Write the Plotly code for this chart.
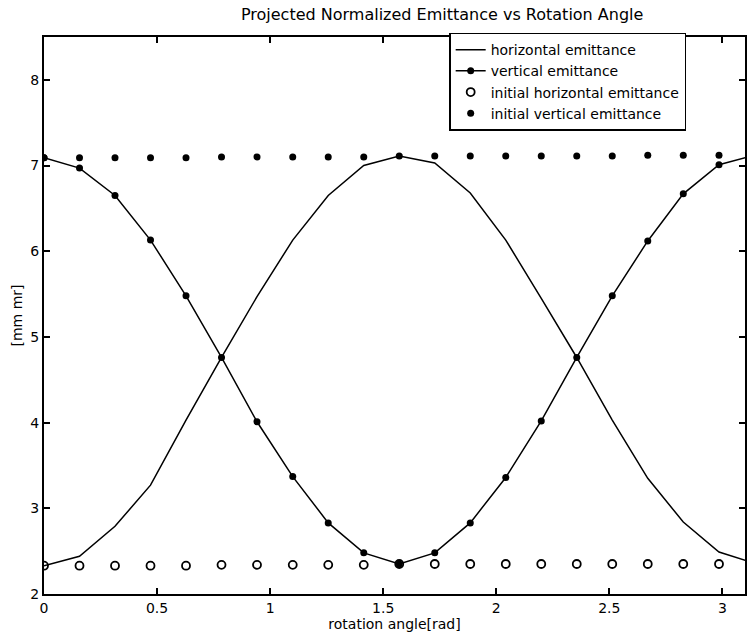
import plotly.graph_objects as go

# rotation angle samples (pi/20 steps)
angles = [0.000, 0.157, 0.314, 0.471, 0.628, 0.785, 0.942, 1.100, 1.257, 1.414, 1.571,
          1.728, 1.885, 2.042, 2.199, 2.356, 2.513, 2.670, 2.827, 2.985, 3.142]

horizontal = [2.33, 2.44, 2.79, 3.27, 4.03, 4.76, 5.47, 6.13, 6.65, 7.00, 7.11,
              7.03, 6.68, 6.13, 5.45, 4.76, 4.03, 3.35, 2.84, 2.49, 2.36]

vertical = [7.09, 6.97, 6.65, 6.13, 5.48, 4.76, 4.01, 3.37, 2.83, 2.48, 2.35,
            2.48, 2.83, 3.36, 4.02, 4.76, 5.48, 6.12, 6.67, 7.01, 7.12]

init_horizontal = [2.33, 2.33, 2.33, 2.33, 2.33, 2.34, 2.34, 2.34, 2.34, 2.34, 2.35,
                   2.35, 2.35, 2.35, 2.35, 2.35, 2.35, 2.35, 2.35, 2.35, 2.36]

init_vertical = [7.09, 7.09, 7.09, 7.09, 7.09, 7.10, 7.10, 7.10, 7.10, 7.10, 7.11,
                 7.11, 7.11, 7.11, 7.11, 7.11, 7.11, 7.12, 7.12, 7.12, 7.12]

x_ticks = [0, 0.5, 1, 1.5, 2, 2.5, 3]
x_tick_labels = ["0", "0.5", "1", "1.5", "2", "2.5", "3"]
y_ticks = [2, 3, 4, 5, 6, 7, 8]
y_tick_labels = ["2", "3", "4", "5", "6", "7", "8"]

FONT = "DejaVu Sans, Liberation Sans, Arial, sans-serif"

fig = go.Figure()
fig.add_trace(go.Scatter(x=angles, y=horizontal, mode="lines", name="horizontal emittance",
                         line=dict(color="black", width=1.5)))
fig.add_trace(go.Scatter(x=angles, y=vertical, mode="lines+markers", name="vertical emittance",
                         line=dict(color="black", width=1.5),
                         marker=dict(symbol="circle", size=7, color="black")))
fig.add_trace(go.Scatter(x=angles, y=init_horizontal, mode="markers", name="initial horizontal emittance",
                         marker=dict(symbol="circle-open", size=8, color="black", line=dict(width=1.8))))
fig.add_trace(go.Scatter(x=angles, y=init_vertical, mode="markers", name="initial vertical emittance",
                         marker=dict(symbol="circle", size=7, color="black")))

fig.update_layout(
    width=747, height=641,
    margin=dict(l=44, r=0, t=37, b=47),
    paper_bgcolor="white", plot_bgcolor="white",
    font=dict(family=FONT, size=14, color="black"),
    title=dict(text="Projected Normalized Emittance vs Rotation Angle",
               x=0.568, xref="paper", xanchor="center", y=0.987, yanchor="top",
               font=dict(family=FONT, size=16, color="black")),
    showlegend=True,
    legend=dict(x=0.578, y=1.008, xanchor="left", yanchor="top",
                bordercolor="black", borderwidth=1.5, bgcolor="white",
                font=dict(family=FONT, size=14, color="black"),
                itemwidth=30, tracegroupgap=0),
    xaxis=dict(range=[0, 3.10], tickmode="array", tickvals=x_ticks, ticktext=x_tick_labels,
               ticks="inside", ticklen=6, tickwidth=1.5, tickcolor="black",
               showline=True, linecolor="black", linewidth=2, mirror="ticks",
               showgrid=False, zeroline=False,
               title=dict(text="rotation angle[rad]", standoff=2, font=dict(size=14)),
               tickfont=dict(size=14)),
    yaxis=dict(range=[2, 8.5], tickmode="array", tickvals=y_ticks, ticktext=y_tick_labels,
               ticks="inside", ticklen=6, tickwidth=1.5, tickcolor="black",
               showline=True, linecolor="black", linewidth=2, mirror="ticks",
               showgrid=False, zeroline=False,
               title=dict(text="[mm mr]", standoff=4, font=dict(size=14)),
               tickfont=dict(size=14)),
)

fig.write_html("out.html")
